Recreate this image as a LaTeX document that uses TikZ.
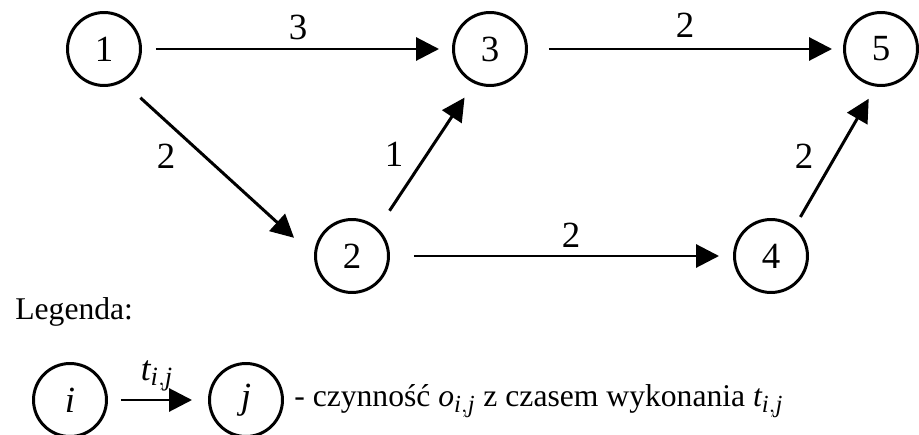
\documentclass[tikz,border=0pt]{standalone}
\usepackage{fontspec}
\setmainfont{Liberation Serif}
\DeclareMathSizes{18}{18}{14}{10}
\DeclareMathSizes{20}{20}{15}{11}
\usetikzlibrary{
  arrows.meta,
  positioning}
\tikzset{every picture/.style={font issue=\fontsize{18}{21}},
         font issue/.style={execute at begin picture={#1\selectfont}}
        }
\tikzset{zdarzenie/.style={draw, circle, line width=1.7pt, inner sep=0pt, minimum size=1.46cm,
                           font=\fontsize{21}{24}\selectfont},
         czynnosc/.style={draw, line width=1.7pt, -{Triangle[length=0.46cm,width=0.46cm]}},
         waga/.style={inner sep=0pt, font=\fontsize{21}{24}\selectfont}
        }
\newcommand{\tij}{$\mathit{t}_{\mathit{i,j}}$}
\newcommand{\oij}{$\mathit{o}_{\mathit{i,j}}$}

\begin{document}
\begin{tikzpicture}[x=0.02cm, y=-0.02cm]
\useasboundingbox (0,0) rectangle (919,435);
%Network
\node[zdarzenie] (n1) at (104,49) {1};
\node[zdarzenie] (n3) at (490,49) {3};
\node[zdarzenie] (n5) at (881,49) {5};
\node[zdarzenie] (n2) at (352,256) {2};
\node[zdarzenie] (n4) at (771,256) {4};

\draw[czynnosc, shorten <=0.28cm, shorten >=0.26cm] (n1) -- (n3);
\draw[czynnosc, shorten <=0.42cm, shorten >=0.22cm] (n3) -- (n5);
\draw[czynnosc, shorten <=0.47cm, shorten >=0.54cm] (n1.-60) -- (n2.west);
\draw[czynnosc, shorten <=0.42cm, shorten >=0.34cm] (n2.47) -- (n3.-115);
\draw[czynnosc, shorten <=0.48cm, shorten >=0.28cm] (n2) -- (n4);
\draw[czynnosc, shorten <=0.22cm, shorten >=0.28cm] (n4.51) -- (n5.-98);

\node[waga] (w13) at (298,27) {3};
\node[waga] (w35) at (685,25) {2};
\node[waga] (w12) at (166,156) {2};
\node[waga] (w23) at (394,154) {1};
\node[waga] (w24) at (571,235) {2};
\node[waga] (w45) at (804,156) {2};

%Legend
\node[anchor=base west, inner sep=0pt] (leg) at (15,319) {Legenda:};
\node[zdarzenie] (li) at (70,400) {\textit{i}};
\node[zdarzenie] (lj) at (246,400) {\textit{j}};
\draw[czynnosc, shorten <=0.26cm, shorten >=0.32cm] (li) -- (lj);
\node[anchor=base, inner sep=0pt, font=\fontsize{20}{24}\selectfont] (tl) at (157,380) {\tij};
\node[anchor=base west, inner sep=0pt] (opis) at ([xshift=0.2cm, yshift=-0.14cm]lj.east)
  {- czynność \oij{} z czasem wykonania \tij};
\end{tikzpicture}
\end{document}
